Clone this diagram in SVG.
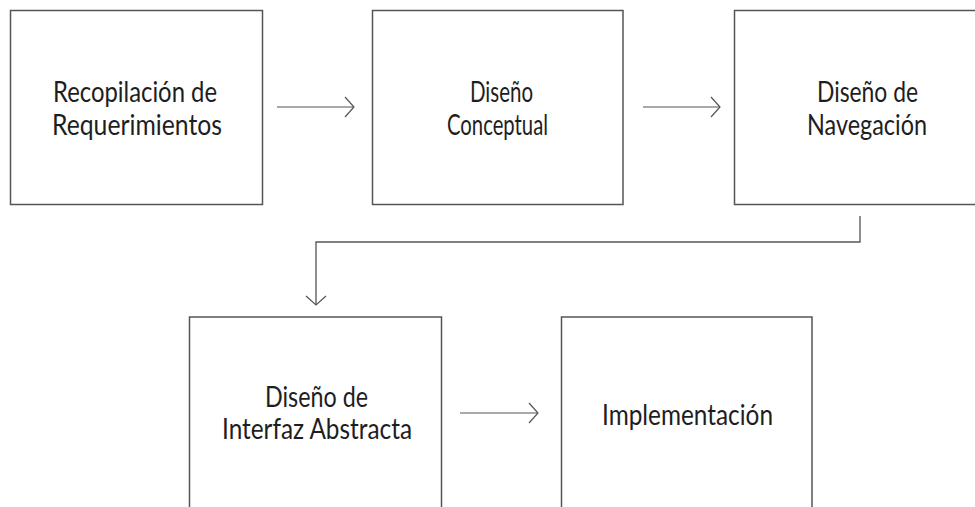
<svg xmlns="http://www.w3.org/2000/svg" width="975" height="507" viewBox="0 0 975 507">
<style>
  .box { fill: #ffffff; stroke: #555555; stroke-width: 1.5; }
  .lbl { font-family: Lato, "Liberation Sans", sans-serif; font-size: 28px; fill: #1e1e1e; }
  .conn { fill: none; stroke: #555555; stroke-width: 1.3; }
  .arr { fill: none; stroke: #555555; stroke-width: 1.1; }
</style>
<defs>
  <marker id="open" markerUnits="userSpaceOnUse" viewBox="-11 -12 13 24" refX="0" refY="0" markerWidth="13" markerHeight="24" orient="auto">
    <path d="M-9,-10 L0,0 L-9,10" fill="none" stroke="#555555" stroke-width="1.2"/>
  </marker>
</defs>
<rect width="975" height="507" fill="#ffffff"/>
<g id="n1">
  <rect class="box" x="10.5" y="10.5" width="252" height="194"/>
  <text class="lbl" x="53" y="101.5" textLength="164" lengthAdjust="spacingAndGlyphs">Recopilación de</text>
  <text class="lbl" x="52" y="135" textLength="170" lengthAdjust="spacingAndGlyphs">Requerimientos</text>
</g>
<g id="n2">
  <rect class="box" x="372.5" y="10.5" width="250.5" height="194"/>
  <text class="lbl" x="470" y="101.5" textLength="63" lengthAdjust="spacingAndGlyphs">Diseño</text>
  <text class="lbl" x="447" y="135" textLength="101" lengthAdjust="spacingAndGlyphs">Conceptual</text>
</g>
<g id="n3">
  <rect class="box" x="734.5" y="10.5" width="266" height="194"/>
  <text class="lbl" x="817" y="101.5" textLength="101" lengthAdjust="spacingAndGlyphs">Diseño de</text>
  <text class="lbl" x="807" y="135" textLength="120" lengthAdjust="spacingAndGlyphs">Navegación</text>
</g>
<g id="n4">
  <rect class="box" x="189.5" y="317" width="252" height="220"/>
  <text class="lbl" x="265" y="407" textLength="103" lengthAdjust="spacingAndGlyphs">Diseño de</text>
  <text class="lbl" x="222" y="439" textLength="190" lengthAdjust="spacingAndGlyphs">Interfaz Abstracta</text>
</g>
<g id="n5">
  <rect class="box" x="561.5" y="317" width="250.5" height="220"/>
  <text class="lbl" x="602" y="425" textLength="171" lengthAdjust="spacingAndGlyphs">Implementación</text>
</g>
<g id="connectors">
  <line class="arr" x1="277" y1="107" x2="354" y2="107" marker-end="url(#open)"/>
  <line class="arr" x1="643" y1="107" x2="720" y2="107" marker-end="url(#open)"/>
  <path class="conn" d="M860,216 V242 H316 V305" marker-end="url(#open)"/>
  <line class="arr" x1="460" y1="413" x2="538" y2="413" marker-end="url(#open)"/>
</g>
</svg>
